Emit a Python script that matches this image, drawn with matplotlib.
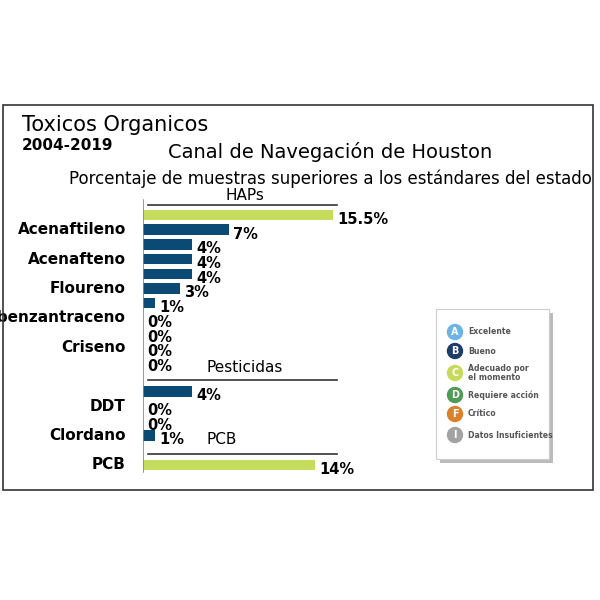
import matplotlib
matplotlib.use("Agg")
import matplotlib.pyplot as plt
from matplotlib.patches import Rectangle, Circle
from matplotlib import font_manager

values = [15.5, 7, 4, 4, 4, 3, 1, 0, 0, 0, 0, 4, 0, 0, 1, 14]
labels = ["", "Acenaftileno", "", "Acenafteno", "", "Floureno", "", "Dibenzantraceno", "", "Criseno", "",
          "", "DDT", "", "Clordano", "PCB"]
value_text = ["15.5%", "7%", "4%", "4%", "4%", "3%", "1%", "0%", "0%", "0%", "0%", "4%", "0%", "0%", "1%", "14%"]
grades = ["C", "B", "B", "B", "B", "B", "B", "B", "B", "B", "B", "B", "B", "B", "B", "C"]
positions = [0, 1, 2, 3, 4, 5, 6, 7, 8, 9, 10, 12, 13, 14, 15, 17]
groups = ["HAPs", "Pesticidas", "PCB"]
group_text_pos = [-1.35, 10.4, 15.3]
group_line_pos = [-0.65, 11.2, 16.25]
legend_letters = ["A", "B", "C", "D", "F", "I"]
legend_names = ["Excelente", "Bueno", "Adecuado por\nel momento", "Requiere acción", "Crítico", "Datos Insuficientes"]
legend_colors = ["#6cb4e6", "#1f3d6b", "#c7da5b", "#4f9a55", "#d9822b", "#a3a3a3"]
bar_colors = {"B": "#0b4a74", "C": "#c5dc5d"}

W = 600
def fx(x): return x / W
def fy(y): return 1 - y / W

names = {f.name for f in font_manager.fontManager.ttflist}
narrow = "Liberation Sans Narrow" if "Liberation Sans Narrow" in names else "DejaVu Sans"
cf = dict(family=narrow)

fig = plt.figure(figsize=(6, 6), dpi=100)
fig.patch.set_facecolor("white")

fig.add_artist(Rectangle((fx(3), fy(490)), fx(590), 385 / W, transform=fig.transFigure,
                         fill=False, edgecolor="#333333", linewidth=1.2))

fig.text(fx(22), fy(125), "Toxicos Organicos", fontsize=15, ha="left", va="center", **cf)
fig.text(fx(22), fy(145), "2004-2019", fontsize=11, fontweight="bold", ha="left", va="center", **cf)
fig.text(fx(330), fy(152), "Canal de Navegación de Houston", fontsize=14, ha="center", va="center", **cf)
fig.text(fx(330), fy(179), "Porcentaje de muestras superiores a los estándares del estado", fontsize=12,
         ha="center", va="center", **cf)

px_per_unit = 12.26
row_px = 14.7
y0 = 215
ax_left, ax_right, ax_top, ax_bot = 143, 400, 185, 480
ax = fig.add_axes([fx(ax_left), fy(ax_bot), (ax_right - ax_left) / W, (ax_bot - ax_top) / W])
ax.set_xlim(0, (ax_right - ax_left) / px_per_unit)
ax.set_ylim((ax_bot - y0) / row_px, (ax_top - y0) / row_px)
ax.axis("off")
ax.barh(positions, values, height=0.72, color=[bar_colors[g] for g in grades], zorder=2)
for i, (p, v, t) in enumerate(zip(positions, values, value_text)):
    ax.text(v + 0.35, p + 0.3, t, fontsize=10.5, fontweight="bold", ha="left", va="center", **cf)
    ax.text(-1.4, p, labels[i], fontsize=11, fontweight="bold", ha="right", va="center", **cf)
ax.plot([0, 0], [-1.0, 17.5], color="#888888", linewidth=1.2, zorder=3)
for g, tp, lp in zip(groups, group_text_pos, group_line_pos):
    ax.plot([0.4, 15.8], [lp, lp], color="#333333", linewidth=1.2)
    ax.text(8.3 if g != "PCB" else 6.4, tp, g, fontsize=11, ha="center", va="center", **cf)

fig.add_artist(Rectangle((fx(440), fy(463)), 113 / W, 150 / W, transform=fig.transFigure,
                         facecolor="#bbbbbb", edgecolor="none"))
fig.add_artist(Rectangle((fx(436), fy(459)), 113 / W, 150 / W, transform=fig.transFigure,
                         facecolor="white", edgecolor="#cccccc", linewidth=0.8))
ly = [332, 351, 373, 395, 414, 435]
for y, l, n, c in zip(ly, legend_letters, legend_names, legend_colors):
    fig.add_artist(Circle((fx(455), fy(y)), 7.5 / W, transform=fig.transFigure, color=c))
    fig.text(fx(455), fy(y), l, color="white", fontsize=7, fontweight="bold", ha="center", va="center", **cf)
    fig.text(fx(468), fy(y), n, color="#555555", fontsize=5.6, fontweight="bold", ha="left", va="center",
             linespacing=1.1)

fig.savefig("out.png", dpi=100)
